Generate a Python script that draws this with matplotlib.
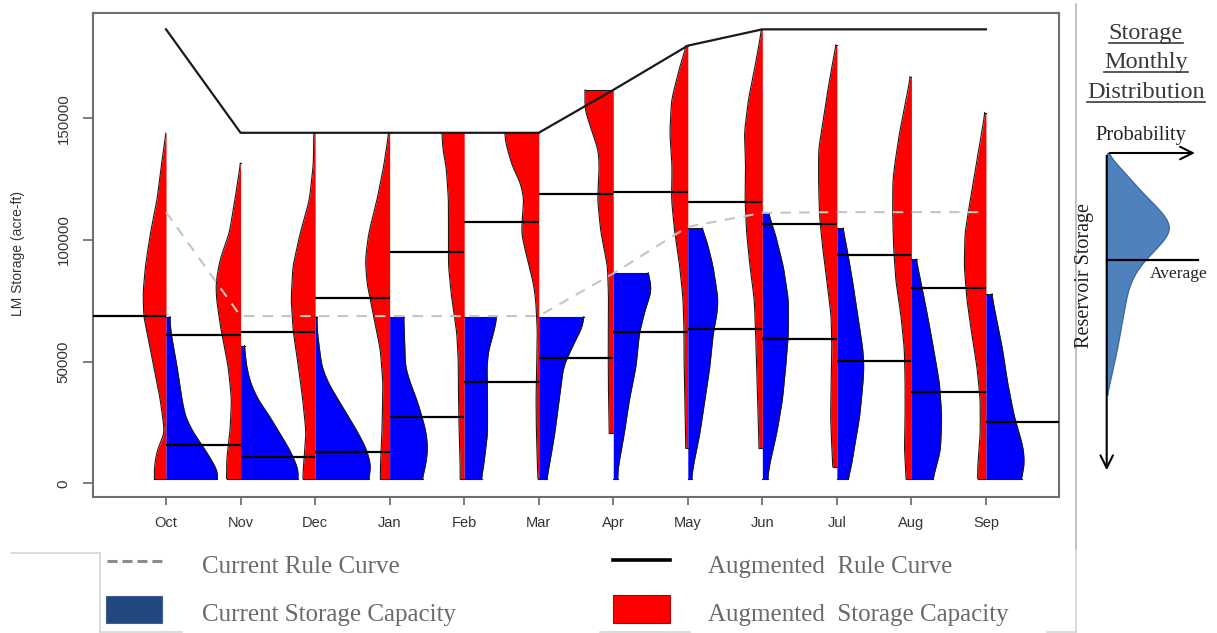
import numpy as np
import matplotlib
matplotlib.use("Agg")
import matplotlib.pyplot as plt
from matplotlib.lines import Line2D
from matplotlib.patches import Rectangle

# ---------------- data ----------------
months = ["Oct", "Nov", "Dec", "Jan", "Feb", "Mar", "Apr", "May", "Jun", "Jul", "Aug", "Sep"]

# rule curves (acre-ft)
augmented_rule = [186500, 144000, 144000, 144000, 144000, 144000, 161600, 179800, 186500, 186500, 186500, 186500]
current_rule = [111400, 68700, 68700, 68700, 68700, 68700, 86200, 105400, 111100, 111400, 111400, 111400]

# monthly mean storage (acre-ft)
augmented_mean = [68700, 60900, 62000, 76300, 94900, 107500, 118700, 119500, 115400, 106500, 93800, 80100]
current_mean = [15700, 10900, 12700, 27100, 41800, 51400, 62300, 63400, 59200, 50300, 37600, 25300]

# distribution profiles: (storage in 1000 acre-ft, relative density)
aug_oct = [(143.8, 0), (130.1, 5), (116.4, 9), (102.7, 15.7), (89.0, 20.7), (78.1, 23), (68.5, 22.3),
           (61.6, 19), (47.9, 12.3), (34.2, 5.7), (20.5, 1.3), (13.7, 9), (6.8, 11.7), (1.9, 11.7)]
aug_nov = [(131.5, 0), (116.4, 5.7), (102.7, 11.3), (91.8, 20.7), (82.2, 24.7), (75.3, 24), (61.6, 19),
           (47.9, 12.3), (34.2, 9), (20.5, 10.7), (9.6, 14), (1.9, 14)]
aug_dec = [(143.8, 1.3), (131.5, 1.7), (116.4, 5.7), (102.7, 15), (89.0, 22.3), (75.3, 24), (61.6, 21.7),
           (47.9, 16.7), (34.2, 12.3), (20.5, 9), (6.8, 11.7), (1.9, 12.3)]
aug_jan = [(143.8, 1), (130.1, 6), (116.4, 12.7), (102.7, 21), (91.8, 24.3), (82.2, 22.7), (68.5, 16),
           (54.8, 9.3), (41.1, 6.7), (20.5, 7.7), (6.8, 9.3), (1.9, 9.3)]
aug_feb = [(143.8, 22.3), (137.0, 21.3), (130.1, 18), (116.4, 15.7), (102.7, 15.7), (89.0, 15.7), (75.3, 12.3),
           (61.6, 7.3), (47.9, 5.7), (34.2, 5.7), (20.5, 5), (6.8, 4), (1.9, 4)]
aug_mar = [(143.8, 34), (139.7, 33), (130.1, 26.3), (123.2, 18), (116.4, 14.7), (109.6, 16.3), (102.7, 17.3),
           (91.8, 11.3), (82.2, 5.3), (75.3, 3), (61.6, 1.3), (47.9, 2), (34.2, 2.7), (20.5, 2.3), (6.8, 1.3), (1.9, 0.7)]
aug_apr = [(161.6, 28.3), (153.4, 28.3), (143.8, 20.7), (137.0, 15), (130.1, 14), (116.4, 15.7), (102.7, 12.3),
           (89.0, 5.7), (75.3, 4.7), (61.6, 5), (47.9, 5), (34.2, 4.7), (20.5, 4)]
aug_may = [(179.8, 1.3), (171.2, 8), (157.5, 16.3), (143.8, 18), (130.1, 15.7), (116.4, 16.3), (102.7, 13),
           (89.0, 8), (75.3, 4.7), (61.6, 3.7), (47.9, 3.7), (34.2, 3), (20.5, 2.3), (14.4, 2)]
aug_jun = [(186.5, 0.7), (171.2, 7.3), (157.5, 14), (143.8, 18), (130.1, 16.7), (116.4, 17.3), (102.7, 15.7),
           (89.0, 12.3), (75.3, 8), (61.6, 6.7), (47.9, 5.7), (34.2, 4.7), (14.4, 3.3)]
aug_jul = [(180.1, 0.7), (171.2, 5), (157.5, 10.7), (143.8, 15.7), (137.0, 18.3), (123.2, 18.3), (109.6, 17.3),
           (95.9, 14), (82.2, 9.7), (68.5, 5.7), (54.8, 5), (41.1, 5.7), (27.4, 6.3), (13.7, 5), (6.8, 4)]
aug_aug = [(167.1, 1), (157.5, 5.3), (143.8, 12), (130.1, 17), (123.2, 18.7), (109.6, 18.7), (95.9, 17.7),
           (82.2, 15.3), (68.5, 10.3), (54.8, 7), (41.1, 6.3), (27.4, 6.3), (13.7, 7), (1.9, 5.3)]
aug_sep = [(152.3, 1), (143.8, 4.3), (130.1, 10), (116.4, 15.7), (102.7, 21), (89.0, 21.7), (75.3, 19),
           (61.6, 14.3), (47.9, 9), (34.2, 5.7), (20.5, 5.7), (6.8, 8.3), (1.9, 8.3)]

cur_oct = [(68.5, 3.7), (61.6, 5), (47.9, 11), (34.2, 16), (27.4, 19.3), (20.5, 27.7), (13.7, 39.3),
           (6.8, 49.3), (4.1, 52.7), (1.9, 51)]
cur_nov = [(56.6, 3.7), (47.9, 6), (41.1, 10), (34.2, 17.7), (27.4, 29.3), (20.5, 39.3), (13.7, 49.3),
           (6.8, 56.7), (4.1, 58.3), (1.9, 57)]
cur_dec = [(68.5, 1.7), (61.6, 2.3), (47.9, 6.7), (41.1, 13.3), (34.2, 23.3), (27.4, 33.3), (20.5, 43.3),
           (13.7, 51.7), (6.8, 56), (1.9, 53.3)]
cur_jan = [(68.5, 14), (61.6, 14.7), (47.9, 15.7), (41.1, 20.7), (34.2, 27.3), (27.4, 32.3), (20.5, 36.7),
           (13.7, 38), (6.8, 35.7), (1.9, 32.3)]
cur_feb = [(68.5, 32.7), (61.6, 29.3), (54.8, 24.3), (47.9, 22.7), (34.2, 23.3), (20.5, 23.3), (6.8, 19.3), (1.9, 17)]
cur_mar = [(68.5, 45.3), (64.4, 43.7), (54.8, 32), (47.9, 24.7), (34.2, 20.3), (20.5, 16), (6.8, 10.3), (1.9, 8)]
cur_apr = [(86.5, 34.3), (82.2, 37.7), (78.1, 37.7), (72.6, 32.7), (67.1, 29.3), (61.6, 26), (47.9, 22.7),
           (34.2, 16), (20.5, 11), (6.8, 5), (1.9, 4.3)]
cur_may = [(104.8, 13.7), (100.0, 18.7), (89.0, 25.3), (75.3, 30.3), (68.5, 28.7), (61.6, 25.3), (47.9, 22),
           (34.2, 17), (20.5, 12), (6.8, 5.3), (1.9, 3.7)]
cur_jun = [(110.9, 6), (102.7, 12.7), (89.0, 21), (75.3, 26), (61.6, 26), (47.9, 23.3), (34.2, 20),
           (20.5, 14.3), (6.8, 6.7), (1.9, 5.3)]
cur_jul = [(104.8, 6), (95.9, 10.3), (82.2, 16), (68.5, 21), (54.8, 26), (47.9, 27), (41.1, 26), (27.4, 22.7),
           (13.7, 17), (6.8, 14.3), (1.9, 11)]
cur_aug = [(92.0, 4.7), (82.2, 9.7), (68.5, 16.3), (54.8, 22.3), (41.1, 28), (27.4, 30.3), (13.7, 29),
           (6.8, 24.7), (1.9, 21.3)]
cur_sep = [(77.8, 5.7), (68.5, 10), (54.8, 16.7), (41.1, 21.7), (27.4, 28.3), (20.5, 33.3), (13.7, 37.7),
           (6.8, 38.3), (1.9, 35)]

augmented_profiles = [aug_oct, aug_nov, aug_dec, aug_jan, aug_feb, aug_mar,
                      aug_apr, aug_may, aug_jun, aug_jul, aug_aug, aug_sep]
current_profiles = [cur_oct, cur_nov, cur_dec, cur_jan, cur_feb, cur_mar,
                    cur_apr, cur_may, cur_jun, cur_jul, cur_aug, cur_sep]

y_ticks = [0, 50000, 100000, 150000]

# schematic distribution (right panel): relative storage level, relative density
schematic_level = [100, 93.8, 87.5, 81.3, 76.9, 73.8, 69.7, 66.6, 62.5, 57.2, 48.8, 38.4, 31.3, 24.4]
schematic_density = [0, 18, 36, 56, 65, 60, 48, 38, 28, 21, 16, 10, 5, 0]
schematic_average = 66.6

# ---------------- figure ----------------
W, H = 1217, 633
fig = plt.figure(figsize=(W / 100, H / 100), dpi=100)


def fx(px):
    return px / W


def fy(py):
    return 1 - py / H


SANS = ["Liberation Sans", "DejaVu Sans"]
SERIF = ["Liberation Serif", "DejaVu Serif"]

ax = fig.add_axes([fx(93), fy(497), fx(1059) - fx(93), fy(12.7) - fy(497)])
ax.set_xlim(0.02, 12.98)
ax.set_ylim(-5630, 193340)

DSCALE = 1 / 74.5  # density units -> month spacing


def smooth_curve(levels, widths, n=500, sigma=2.2):
    lv = np.asarray(levels, dtype=float)
    wd = np.asarray(widths, dtype=float)
    order = np.argsort(lv)
    lv, wd = lv[order], wd[order]
    grid = np.linspace(lv[0], lv[-1], n)
    w = np.interp(grid, lv, wd)
    step = grid[1] - grid[0]
    s = sigma / step
    k = int(3 * s) + 1
    kern = np.exp(-0.5 * (np.arange(-k, k + 1) / s) ** 2)
    kern /= kern.sum()
    wp = np.pad(w, k, mode="edge")
    w = np.convolve(wp, kern, mode="valid")
    return grid, w


def smooth_profile(profile):
    g, w = smooth_curve([p[0] * 1000.0 for p in profile], [p[1] for p in profile], sigma=2200.0)
    return g, w


EDGE = "#1a1a1a"
for i in range(12):
    pos = i + 1
    g, w = smooth_profile(augmented_profiles[i])
    w = w * DSCALE
    ax.fill_betweenx(g, pos - w, pos, color="#ff0000", lw=0, zorder=2)
    ax.plot(pos - w, g, color=EDGE, lw=0.8, zorder=3)
    ax.plot([pos - w[0], pos], [g[0], g[0]], color=EDGE, lw=0.8, zorder=3)
    ax.plot([pos - w[-1], pos], [g[-1], g[-1]], color=EDGE, lw=0.8, zorder=3)

    g, w = smooth_profile(current_profiles[i])
    w = w * DSCALE
    ax.fill_betweenx(g, pos, pos + w, color="#0000ff", lw=0, zorder=2)
    ax.plot(pos + w, g, color=EDGE, lw=0.8, zorder=3)
    ax.plot([pos, pos + w[0]], [g[0], g[0]], color=EDGE, lw=0.8, zorder=3)
    ax.plot([pos, pos + w[-1]], [g[-1], g[-1]], color=EDGE, lw=0.8, zorder=3)

# mean lines
for i in range(12):
    pos = i + 1
    ax.plot([pos - 1, pos], [augmented_mean[i]] * 2, color="black", lw=1.6, zorder=4,
            solid_capstyle="butt")
    ax.plot([pos, pos + 1], [current_mean[i]] * 2, color="black", lw=1.6, zorder=4,
            solid_capstyle="butt")

xpos = np.arange(1, 13)
ax.plot(xpos, augmented_rule, color="#1a1a1a", lw=1.6, zorder=5)
ax.plot(xpos, current_rule, color="#c4c4c4", lw=1.5, dashes=(5, 4), zorder=5)

ax.set_xticks(xpos)
ax.set_xticklabels(months, fontfamily=SANS, fontsize=10.5, color="#333333")
ax.set_yticks(y_ticks)
ax.set_yticklabels([str(v) for v in y_ticks], fontfamily=SANS, fontsize=10.8,
                   color="#333333", rotation=90, va="center")
ax.tick_params(axis="x", length=6, width=1.2, color="#666666", pad=8)
ax.tick_params(axis="y", length=7, width=1.2, color="#666666", pad=9)
for sp in ax.spines.values():
    sp.set_color("#6e6e6e")
    sp.set_linewidth(1.5)

fig.text(fx(18), fy(254), "LM Storage (acre-ft)", rotation=90, ha="center", va="center",
         fontsize=10, family=SANS, color="#333333")

# ---------------- legend ----------------
LG = "#6a6a6a"
fig.add_artist(Line2D([fx(107), fx(162)], [fy(561), fy(561)], color="#8c8c8c", lw=2.2,
                      dashes=(3.3, 1.6)))
fig.text(fx(202), fy(573), "Current Rule Curve", fontsize=18, family=SERIF, color=LG, va="baseline")
fig.add_artist(Rectangle((fx(106), fy(623)), fx(162) - fx(106), fy(596) - fy(623),
                         facecolor="#22497d", edgecolor="#3a5f90", lw=0.8, transform=fig.transFigure))
fig.text(fx(202), fy(621), "Current Storage Capacity", fontsize=18, family=SERIF, color=LG, va="baseline")
fig.add_artist(Line2D([fx(613), fx(670)], [fy(560), fy(560)], color="black", lw=2.6))
fig.text(fx(708), fy(573), "Augmented  Rule Curve", fontsize=18, family=SERIF, color=LG, va="baseline")
fig.add_artist(Rectangle((fx(613), fy(623)), fx(670) - fx(613), fy(595) - fy(623),
                         facecolor="#ff0000", edgecolor="#b00000", lw=0.8, transform=fig.transFigure))
fig.text(fx(708), fy(621), "Augmented  Storage Capacity", fontsize=18, family=SERIF, color=LG,
         va="baseline")

# faint frame fragments
FC = "#d6d6d6"
for (x0, y0, x1, y1) in [(11, 553, 100, 553), (100, 553, 100, 632), (100, 632, 182, 632),
                         (600, 632, 690, 632), (1047, 632, 1076, 632)]:
    fig.add_artist(Line2D([fx(x0), fx(x1)], [fy(y0), fy(y1)], color=FC, lw=1.2))
fig.add_artist(Line2D([fx(1076), fx(1076)], [fy(4), fy(550)], color="#b5b5b5", lw=1.2))
fig.add_artist(Line2D([fx(1076), fx(1076)], [fy(550), fy(632)], color=FC, lw=1.2))

# ---------------- right panel ----------------
titles = [("Storage", 39), ("Monthly", 68), ("Distribution", 98)]
title_texts = []
for t, base in titles:
    tt = fig.text(fx(1146), fy(base), t, fontsize=17.5, family=SERIF, color="#3a3a3a",
                  ha="center", va="baseline")
    title_texts.append((tt, base))
fig.canvas.draw()
rend = fig.canvas.get_renderer()
for tt, base in title_texts:
    bb = tt.get_window_extent(renderer=rend)
    fig.add_artist(Line2D([bb.x0 / W, bb.x1 / W], [fy(base + 3.5), fy(base + 3.5)],
                          color="#3a3a3a", lw=1.2))

fig.text(fx(1141), fy(140), "Probability", fontsize=14.8, family=SERIF, color="#222222",
         ha="center", va="baseline")

iax = fig.add_axes([fx(1106.7), fy(473), fx(1206.7) - fx(1106.7), fy(153) - fy(473)])
iax.set_xlim(0, 100)
iax.set_ylim(0, 100)
iax.axis("off")
sg, sw = smooth_curve(schematic_level, schematic_density, sigma=2.0)
iax.fill_betweenx(sg, 0, sw, facecolor="#4f81bd", edgecolor="#3d6aa0", lw=1.0, zorder=2)
iax.annotate("", xy=(91, 100), xytext=(0, 100),
             arrowprops=dict(arrowstyle="->,head_length=0.9,head_width=0.45", lw=1.5, color="black"),
             annotation_clip=False)
iax.annotate("", xy=(0, 0), xytext=(0, 100),
             arrowprops=dict(arrowstyle="->,head_length=0.9,head_width=0.45", lw=1.5, color="black"),
             annotation_clip=False)
iax.plot([0, 91], [schematic_average] * 2, color="black", lw=1.6, zorder=3, clip_on=False)

fig.text(fx(1150), fy(278), "Average", fontsize=12.5, family=SERIF, color="#222222",
         ha="left", va="baseline")
fig.text(fx(1085), fy(275), "Reservoir Storage", fontsize=14.5, family=SERIF, color="#222222",
         rotation=90, ha="center", va="center")

fig.savefig("out.png", dpi=100)
